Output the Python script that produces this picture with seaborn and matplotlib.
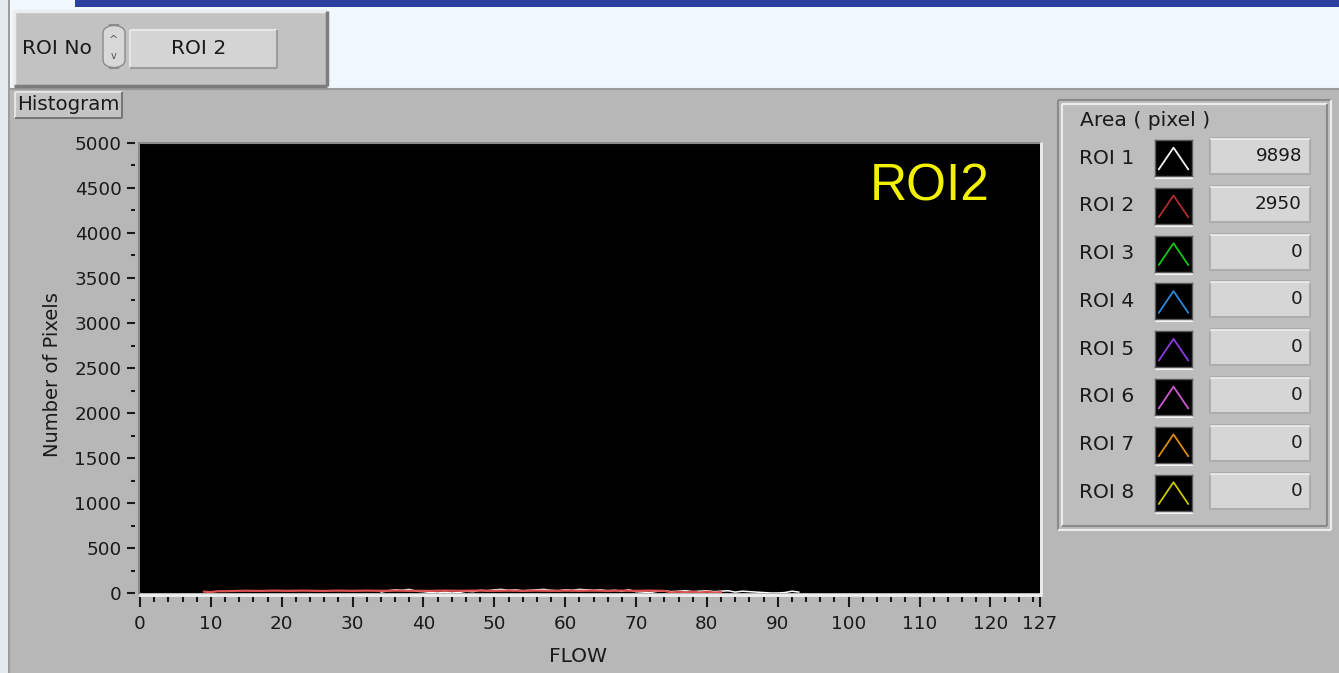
import matplotlib
matplotlib.use("Agg")
import matplotlib.pyplot as plt
import seaborn as sns
import pandas as pd
from matplotlib import font_manager
from matplotlib.patches import Rectangle, FancyBboxPatch
from matplotlib.lines import Line2D
from matplotlib.ticker import MultipleLocator

# histogram counts per FLOW bin, only the part that is not zero
roi1_start = 34
roi1_counts = [10, 25, 35, 30, 40, 20, 15, 5, 0, 10, 0, 5, 20, 15,
               30, 25, 35, 40, 30, 35, 25, 30, 35, 40, 30, 25, 35, 30, 40, 35,
               30, 35, 25, 30, 20, 35, 15, 10, 5, 20, 25, 15, 20, 25, 15, 20,
               25, 15, 20, 25, 10, 20, 15, 10, 5, 0, 0, 5, 20, 10]

roi2_start = 9
roi2_counts = [15, 10, 20,
               20, 22, 24, 25, 24, 23, 25, 26, 25, 24,
               25, 26, 25, 24, 23, 25, 26, 25, 24, 25,
               26, 25, 24, 25, 26, 25, 24, 25, 24, 23,
               25, 26, 25, 24, 25, 26, 27, 25, 24, 25,
               26, 25, 24, 25, 26, 25, 24, 25, 26, 25,
               24, 25, 26, 25, 24, 25, 26, 25, 24, 25,
               26, 25, 24,
               5, 15, 5, 15, 5, 15, 5, 10]

x_ticks = [0, 10, 20, 30, 40, 50, 60, 70, 80, 90, 100, 110, 120, 127]
y_ticks = [0, 500, 1000, 1500, 2000, 2500, 3000, 3500, 4000, 4500, 5000]

roi_names = ['ROI 1', 'ROI 2', 'ROI 3', 'ROI 4', 'ROI 5', 'ROI 6', 'ROI 7', 'ROI 8']
roi_areas = [9898, 2950, 0, 0, 0, 0, 0, 0]
roi_colors = ['#f4f4f4', '#b02c2c', '#10c810', '#2a88dc', '#8a3ce0', '#d058d0', '#dc8c10', '#c8c800']
plot_colors = ['#ffffff', '#dc5252']
selected_roi = 'ROI 2'


def has_font(name):
    try:
        font_manager.findfont(font_manager.FontProperties(family=name), fallback_to_default=False)
        return True
    except Exception:
        return False


if has_font('Liberation Sans Narrow'):
    UI = ['Liberation Sans Narrow', 'DejaVu Sans']
    DIG, TXT = 17.5, 18.5
else:
    UI = ['DejaVu Sans']
    DIG, TXT = 13.2, 14.6

sns.set_style('dark')
plt.rcParams['font.family'] = UI

W, H = 1339, 673
fig = plt.figure(figsize=(W / 100, H / 100), dpi=100)
fig.patch.set_facecolor('#f0f8fe')


def fx(x):
    return x / W


def fy(y):
    return 1 - y / H


def box(x, y, w, h, fc, ec='none', lw=0, z=-5):
    fig.add_artist(Rectangle((fx(x), fy(y + h)), w / W, h / H, transform=fig.transFigure,
                             facecolor=fc, edgecolor=ec, linewidth=lw, zorder=z))


def line(xs, ys, color, lw=1.0, z=-4):
    fig.add_artist(Line2D([fx(v) for v in xs], [fy(v) for v in ys], transform=fig.transFigure,
                          color=color, linewidth=lw, zorder=z, solid_capstyle='butt'))


def bevel(x, y, w, h, tl, br, lw=1.4, z=-4):
    line([x, x + w], [y, y], tl, lw, z)
    line([x, x], [y, y + h], tl, lw, z)
    line([x, x + w], [y + h, y + h], br, lw, z)
    line([x + w, x + w], [y, y + h], br, lw, z)


def label(x, y, s, size=TXT, ha='left', color='#1a1a1a'):
    fig.text(fx(x), fy(y), s, ha=ha, va='center', fontsize=size, color=color, zorder=6)


# window background
box(75, 0, W - 75, 7, '#2b3f9e')
box(0, 0, 9, H, '#e4eaee')
line([9, 9], [0, H], '#8c8c8c', 1.2)
box(10, 88, W - 10, H - 88, '#b7b7b7')
line([10, W], [89, 89], '#9a9a9a', 1.5)

# ROI No control
box(14, 11, 313, 75, '#c2c2c2')
bevel(14, 11, 313, 75, '#ececec', '#7c7c7c', 2.5)
label(22, 49, 'ROI No')
fig.add_artist(FancyBboxPatch((fx(103), fy(68)), 22 / W, 43 / H, boxstyle='round,pad=0,rounding_size=0.012',
                              transform=fig.transFigure, facecolor='#d8d8d8', edgecolor='#8a8a8a',
                              linewidth=1, zorder=-3))
fig.text(fx(114), fy(40), '^', ha='center', va='center', fontsize=8, color='#555555', family='DejaVu Sans')
fig.text(fx(114), fy(56), 'v', ha='center', va='center', fontsize=7, color='#555555', family='DejaVu Sans')
box(130, 30, 147, 38, '#d4d4d4')
bevel(130, 30, 147, 38, '#e6e6e6', '#9c9c9c', 1.5)
label(199, 49, selected_roi, ha='center')

# Histogram caption
box(15, 92, 107, 26, '#c4c4c4')
bevel(15, 92, 107, 26, '#e8e8e8', '#6e6e6e', 1.3)
label(17, 105, 'Histogram', size=TXT - 0.4)

# main plot
ax = fig.add_axes([fx(140), fy(593), 900 / W, 450 / H])
ax.set_facecolor('black')
ax.grid(False)

roi1_df = pd.DataFrame({'FLOW': [roi1_start + i for i in range(len(roi1_counts))], 'count': roi1_counts})
roi2_df = pd.DataFrame({'FLOW': [roi2_start + i for i in range(len(roi2_counts))], 'count': roi2_counts})
sns.lineplot(data=roi1_df, x='FLOW', y='count', ax=ax, color=plot_colors[0], linewidth=1.1)
sns.lineplot(data=roi2_df, x='FLOW', y='count', ax=ax, color=plot_colors[1], linewidth=1.6)

ax.set_xlim(0, 127)
ax.set_ylim(0, 5000)
ax.set_xticks(x_ticks, labels=[str(v) for v in x_ticks])
ax.set_yticks(y_ticks, labels=[str(v) for v in y_ticks])
ax.xaxis.set_minor_locator(MultipleLocator(2))
ax.yaxis.set_minor_locator(MultipleLocator(250))

for s in ax.spines.values():
    s.set_visible(False)
ax.spines['left'].set_position(('outward', 5 * 0.72))
ax.spines['bottom'].set_position(('outward', 4 * 0.72))

ax.tick_params(axis='x', which='major', bottom=True, length=10 * 0.72, width=1.5, color='#1a1a1a',
               labelsize=DIG, labelcolor='#1a1a1a', pad=5.5)
ax.tick_params(axis='x', which='minor', bottom=True, length=5 * 0.72, width=1.5, color='#1a1a1a')
ax.tick_params(axis='y', which='major', left=True, length=8 * 0.72, width=1.5, color='#1a1a1a',
               labelsize=DIG, labelcolor='#1a1a1a', pad=4)
ax.tick_params(axis='y', which='minor', left=True, length=4 * 0.72, width=1.5, color='#1a1a1a')

ax.set_xlabel('FLOW', fontsize=TXT, color='#1a1a1a')
ax.set_ylabel('Number of Pixels', fontsize=TXT - 0.6, color='#1a1a1a')
ax.xaxis.set_label_coords((578 - 140) / 900, (593 - 656) / 450)
ax.xaxis.label.set_va('center')
ax.yaxis.set_label_coords((53 - 140) / 900, (593 - 375) / 450)
ax.yaxis.label.set_va('center')

ax.text((930 - 140) / 900, (593 - 187) / 450, 'ROI2', transform=ax.transAxes, ha='center', va='center',
        fontsize=37, color='#f2f200', family='Liberation Sans')

# plot frame
line([139, 1041], [142.5, 142.5], '#8a8a8a', 1.5, 5)
line([139, 139], [142, 594], '#8a8a8a', 1.5, 5)
line([139, 1041.5], [594.5, 594.5], '#eeeeee', 2, 5)
line([1041, 1041], [142, 595], '#eeeeee', 2, 5)

# Area ( pixel ) legend
box(1058, 100, 273, 430, '#bdbdbd')
bevel(1058, 100, 273, 430, '#8a8a8a', '#ececec', 1.5)
bevel(1062, 104, 265, 422, '#ececec', '#8a8a8a', 1.5)
label(1080, 120, 'Area ( pixel )')

for k, name in enumerate(roi_names):
    top = 140 + 47.8 * k
    label(1079, top + 18, name)

    sw = fig.add_axes([fx(1155), fy(top + 36), 37 / W, 36 / H])
    sw.set_facecolor('black')
    sns.lineplot(x=[0, 1, 2], y=[0, 1, 0], ax=sw, color=roi_colors[k], linewidth=1.3)
    sw.set_xlim(-0.25, 2.25)
    sw.set_ylim(-0.3, 1.35)
    sw.set_xticks([])
    sw.set_yticks([])
    sw.set_xlabel('')
    sw.set_ylabel('')
    for s in sw.spines.values():
        s.set_visible(True)
        s.set_color('#5a5a5a')
        s.set_linewidth(1)
    line([1155, 1193], [top + 38, top + 38], '#f2f2f2', 1.5)

    box(1210, top - 2, 100, 36, '#d6d6d6')
    bevel(1210, top - 2, 100, 36, '#a8a8a8', '#a8a8a8', 1.2)
    line([1210, 1310], [top - 1, top - 1], '#ededed', 1.2)
    label(1302, top + 16, str(roi_areas[k]), size=DIG, ha='right')

fig.savefig('out.png', dpi=100, facecolor=fig.get_facecolor())
